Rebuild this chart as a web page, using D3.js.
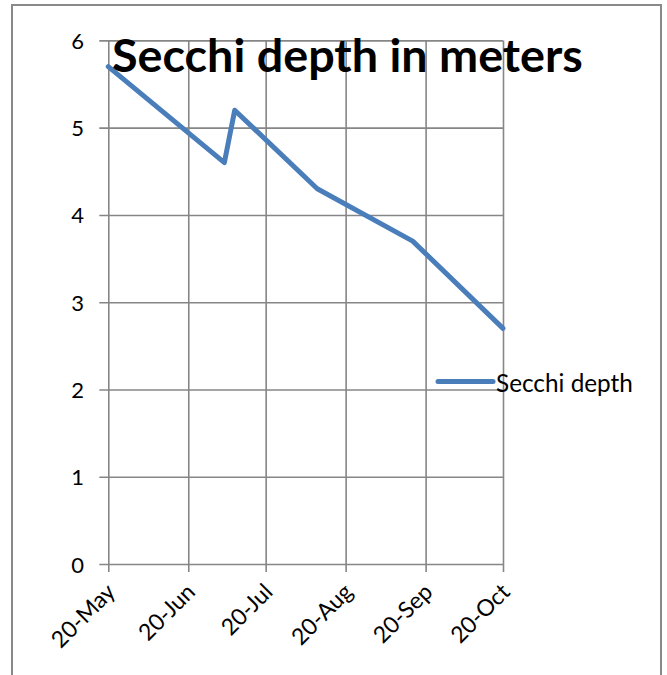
<!DOCTYPE html>
<html>
<head>
<meta charset="utf-8">
<script src="https://cdn.jsdelivr.net/npm/d3@7/dist/d3.min.js"></script>
<style>
  html, body { margin: 0; padding: 0; background: #fff; }
  svg { display: block; }
  text { font-family: Lato, "Open Sans", sans-serif; fill: #000; }
</style>
</head>
<body>
<svg id="chart" width="667" height="675"></svg>
<script>
// ---- data ----
const dates = ["2012-05-20", "2012-07-04", "2012-07-08", "2012-08-09", "2012-09-15", "2012-10-20"];
const secchi = [5.7, 4.6, 5.2, 4.3, 3.7, 2.7];
const xTickDates = ["2012-05-20", "2012-06-20", "2012-07-20", "2012-08-20", "2012-09-20", "2012-10-20"];
const xTickLabels = ["20-May", "20-Jun", "20-Jul", "20-Aug", "20-Sep", "20-Oct"];
const yTicks = [0, 1, 2, 3, 4, 5, 6];
const titleText = "Secchi depth in meters";
const seriesName = "Secchi depth";

(function () {
const parse = d3.timeParse("%Y-%m-%d");
const points = dates.map((d, i) => ({ date: parse(d), value: secchi[i] }));
const tickDates = xTickDates.map(parse);

const svg = d3.select("#chart");
const gridColor = "#868686";
const lineColor = "#4A7EBB";

// outer border (bottom is cut off by the frame)
svg.append("rect")
  .attr("x", 12).attr("y", 5).attr("width", 649).attr("height", 720)
  .attr("fill", "none").attr("stroke", "#898989").attr("stroke-width", 2);

const pLeft = 108.3, pRight = 503, pTop = 40.4, pBottom = 564;
const x = d3.scaleTime().domain([tickDates[0], tickDates[tickDates.length - 1]]).range([pLeft, pRight]);
const y = d3.scaleLinear().domain([0, 6]).range([pBottom, pTop]);

// horizontal gridlines via axis
const yAxis = d3.axisLeft(y).tickValues(yTicks).tickSize(-(pRight - pLeft)).tickFormat("");
const gy = svg.append("g").attr("transform", `translate(${pLeft},0)`).call(yAxis);
gy.select(".domain").remove();
gy.selectAll(".tick line").attr("stroke", gridColor).attr("stroke-width", 1.6).attr("x1", -9);

// vertical gridlines via axis
const xAxis = d3.axisBottom(x).tickValues(tickDates).tickSize(-(pBottom - pTop)).tickFormat("");
const gx = svg.append("g").attr("transform", `translate(0,${pBottom})`).call(xAxis);
gx.select(".domain").remove();
gx.selectAll(".tick line").attr("stroke", gridColor).attr("stroke-width", 1.6).attr("y1", 8);

// y tick labels
svg.append("g").selectAll("text").data(yTicks).join("text")
  .attr("x", 84).attr("y", d => y(d))
  .attr("text-anchor", "end").attr("dominant-baseline", "central")
  .style("font-size", "22px")
  .text(d => d);

// x tick labels, rotated -45
const xl = svg.append("g").selectAll("text").data(tickDates).join("text")
  .attr("transform", d => `translate(${x(d) + 2},${pBottom + 23}) rotate(-45)`)
  .attr("text-anchor", "end").attr("dominant-baseline", "central")
  .style("font-size", "22px")
  .text((d, i) => xTickLabels[i]);
const w0 = xl.node().getComputedTextLength();
if (w0 > 0) xl.style("font-size", (22 * 79 / w0) + "px");

// series line
const line = d3.line().x(d => x(d.date)).y(d => y(d.value));
svg.append("path").datum(points)
  .attr("d", line)
  .attr("fill", "none").attr("stroke", lineColor).attr("stroke-width", 5)
  .attr("stroke-linejoin", "round").attr("stroke-linecap", "round");

// legend
svg.append("line").attr("x1", 438).attr("x2", 493).attr("y1", 381.5).attr("y2", 381.5)
  .attr("stroke", lineColor).attr("stroke-width", 5).attr("stroke-linecap", "round");
const legText = svg.append("text").attr("x", 496).attr("y", 382)
  .attr("dominant-baseline", "central").style("font-size", "22px").text(seriesName);
fitWidth(legText, 137, 22);

// title
const title = svg.append("text").attr("x", 112).attr("y", 71.5)
  .style("font-weight", "bold").style("font-size", "44px").text(titleText);
fitWidth(title, 471, 44);

function fitWidth(sel, target, base) {
  const w = sel.node().getComputedTextLength();
  if (w > 0) sel.style("font-size", (base * target / w) + "px");
}
})();
</script>
</body>
</html>
